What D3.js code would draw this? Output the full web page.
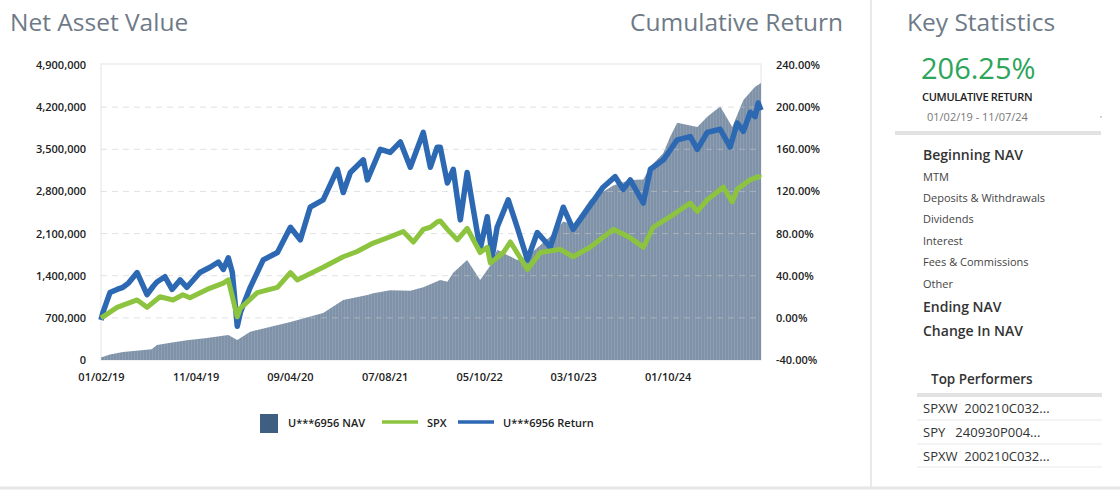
<!DOCTYPE html>
<html>
<head>
<meta charset="utf-8">
<script src="https://cdn.jsdelivr.net/npm/d3@7"></script>
<style>
  html, body { margin: 0; padding: 0; background: #fff; }
  svg { display: block; font-family: "Open Sans", "Noto Sans", sans-serif; }
</style>
</head>
<body>
<svg id="chart" width="1120" height="501"></svg>
<script>
// ---------- data ----------
const navDates = ["2019-01-02","2019-01-31","2019-03-14","2019-06-15","2019-07-02","2019-08-20","2019-10-07","2019-12-11","2020-02-18","2020-03-18","2020-04-29","2020-05-22","2020-09-06","2020-12-21","2021-02-24","2021-05-13","2021-06-01","2021-07-26","2021-09-29","2021-11-10","2022-01-04","2022-01-27","2022-02-15","2022-04-01","2022-05-13","2022-06-21","2022-07-07","2022-09-10","2022-10-13","2022-12-26","2023-02-06","2023-03-10","2023-05-04","2023-07-18","2023-09-11","2023-10-23","2023-11-15","2023-12-27","2024-01-18","2024-02-10","2024-04-15","2024-05-17","2024-06-28","2024-08-06","2024-09-11","2024-10-19","2024-11-07"];
const navValues = [40000,90000,133000,180000,250000,290000,330000,366000,416000,333000,470000,500000,632000,781000,998000,1080000,1110000,1160000,1150000,1210000,1330000,1300000,1450000,1660000,1330000,1610000,1830000,1660000,1720000,2050000,2300000,2250000,2660000,2900000,2990000,3000000,3210000,3440000,3710000,3940000,3870000,4040000,4210000,3870000,4320000,4540000,4600000];

const returnDates = ["2019-01-02","2019-01-08","2019-01-31","2019-02-23","2019-03-14","2019-04-01","2019-04-29","2019-05-31","2019-06-20","2019-07-02","2019-07-28","2019-08-20","2019-09-15","2019-10-07","2019-10-25","2019-11-18","2019-12-21","2020-01-17","2020-02-02","2020-02-18","2020-03-02","2020-03-18","2020-03-28","2020-04-29","2020-06-10","2020-07-26","2020-09-06","2020-10-08","2020-11-09","2020-12-21","2021-02-05","2021-02-24","2021-03-19","2021-04-30","2021-05-13","2021-06-24","2021-07-26","2021-08-28","2021-09-29","2021-11-10","2021-12-03","2021-12-25","2022-01-04","2022-01-27","2022-02-15","2022-03-10","2022-04-01","2022-04-21","2022-05-13","2022-06-05","2022-06-21","2022-07-07","2022-08-12","2022-09-10","2022-10-13","2022-11-14","2022-12-26","2023-02-06","2023-03-10","2023-04-25","2023-06-15","2023-07-24","2023-08-19","2023-09-11","2023-10-23","2023-11-15","2023-12-27","2024-02-10","2024-03-23","2024-04-15","2024-05-17","2024-06-28","2024-07-30","2024-08-22","2024-09-11","2024-10-03","2024-10-19","2024-10-29","2024-11-07"];
const returnValues = [-2,5,24,27,29,33,43,22,30,34,39,27,36,29,35,43,48,53,46,57,43,-8,5,29,55,62,86,74,105,112,141,119,138,150,131,160,157,167,143,176,143,162,162,128,141,93,138,103,65,96,58,86,112,86,55,81,67,105,84,103,124,134,122,131,109,141,150,169,172,160,176,179,162,185,177,195,191,204,197];

const spxDates = ["2019-01-02","2019-01-08","2019-02-23","2019-04-29","2019-05-31","2019-07-12","2019-08-23","2019-09-24","2019-10-17","2019-12-11","2020-02-02","2020-02-18","2020-03-18","2020-03-28","2020-05-22","2020-07-26","2020-09-06","2020-09-28","2020-12-21","2021-02-24","2021-04-10","2021-06-01","2021-07-26","2021-09-06","2021-10-09","2021-11-10","2021-12-03","2021-12-25","2022-01-04","2022-01-27","2022-02-28","2022-04-01","2022-05-13","2022-06-05","2022-06-15","2022-07-27","2022-08-19","2022-10-13","2022-11-24","2023-01-27","2023-03-10","2023-05-04","2023-07-18","2023-09-11","2023-10-23","2023-11-24","2024-01-18","2024-03-23","2024-04-15","2024-05-17","2024-07-08","2024-08-06","2024-08-22","2024-10-03","2024-10-29","2024-11-07"];
const spxValues = [0,1,10,17,10,20,17,22,19,27,33,36,1,9,24,29,43,36,48,58,63,71,77,82,72,84,86,91,92,84,74,85,62,67,52,62,72,46,62,65,58,67,84,76,67,86,96,109,101,112,124,110,122,131,134,133];

const navTicks = [0,700000,1400000,2100000,2800000,3500000,4200000,4900000];
const returnTicks = [-40,0,40,80,120,160,200,240];
const dateTicks = ["2019-01-02","2019-11-04","2020-09-04","2021-07-08","2022-05-10","2023-03-10","2024-01-10"];
const dateRange = ["2019-01-02","2024-11-07"];

const legendItems = [
  {label: "U***6956 NAV", kind: "box"},
  {label: "SPX", kind: "spx"},
  {label: "U***6956 Return", kind: "ret"}
];
const statRows = ["Beginning NAV","MTM","Deposits & Withdrawals","Dividends","Interest","Fees & Commissions","Other","Ending NAV","Change In NAV"];
const performers = ["SPXW  200210C032...","SPY   240930P004...","SPXW  200210C032..."];

// ---------- drawing ----------
const parse = d3.timeParse("%Y-%m-%d");
const svg = d3.select("#chart");

const C = { nav: "#7f92a8", navStripe: "#92a3b7", navLegend: "#3e5f82", spx: "#8cc43f", ret: "#2d69b3", title: "#6e7a87", axis: "#222" };
const L = 101, R = 761, T = 65, B = 360;

const x = d3.scaleTime().domain(dateRange.map(parse)).range([L, R]);
const yNav = d3.scaleLinear().domain([0, 4900000]).range([B, T]);
const yRet = d3.scaleLinear().domain([-40, 240]).range([B, T]);

const nav = navDates.map((d, i) => ({d: parse(d), v: navValues[i]}));
const ret = returnDates.map((d, i) => ({d: parse(d), v: returnValues[i]}));
const spx = spxDates.map((d, i) => ({d: parse(d), v: spxValues[i]}));

// bar-like stripe texture for the NAV area
const defs = svg.append("defs");
const pat = defs.append("pattern").attr("id", "navStripes").attr("patternUnits", "userSpaceOnUse")
  .attr("width", 3).attr("height", 10);
pat.append("rect").attr("width", 3).attr("height", 10).attr("fill", C.nav);
pat.append("rect").attr("x", 2).attr("width", 0.7).attr("height", 10).attr("fill", C.navStripe);

// titles
svg.append("text").attr("x", 10).attr("y", 31).attr("font-size", 24.5).attr("fill", C.title).text("Net Asset Value");
svg.append("text").attr("x", 843).attr("y", 31).attr("font-size", 24.5).attr("fill", C.title).attr("text-anchor", "end").text("Cumulative Return");
svg.append("text").attr("x", 907).attr("y", 31).attr("font-size", 24.5).attr("fill", C.title).text("Key Statistics");

// plot frame
svg.append("rect").attr("x", L).attr("y", T - 1).attr("width", R - L).attr("height", B - T + 1)
  .attr("fill", "none").attr("stroke", "#e3e3e3").attr("stroke-width", 1);

// area NAV
svg.append("path").datum(nav)
  .attr("fill", "url(#navStripes)")
  .attr("d", d3.area().x(d => x(d.d)).y0(yNav(0)).y1(d => yNav(d.v)));

// gridlines
svg.append("g").selectAll("line").data(navTicks.slice(1, -1)).join("line")
  .attr("x1", L).attr("x2", R).attr("y1", d => yNav(d)).attr("y2", d => yNav(d))
  .attr("stroke", "#c8c8c8").attr("stroke-opacity", 0.55).attr("stroke-dasharray", "6,5");

// lines
svg.append("path").datum(ret)
  .attr("fill", "none").attr("stroke", C.ret).attr("stroke-width", 5.5).attr("stroke-linejoin", "round")
  .attr("d", d3.line().x(d => x(d.d)).y(d => yRet(d.v)));
svg.append("path").datum(spx)
  .attr("fill", "none").attr("stroke", C.spx).attr("stroke-width", 5).attr("stroke-linejoin", "round")
  .attr("d", d3.line().x(d => x(d.d)).y(d => yRet(d.v)));

// axes
const styleAxis = g => {
  g.select(".domain").remove();
  g.selectAll("text").attr("font-size", 11).attr("font-weight", 600).attr("fill", C.axis)
    .attr("font-family", "'Open Sans', sans-serif");
};
svg.append("g").attr("transform", `translate(${L},0)`)
  .call(d3.axisLeft(yNav).tickValues(navTicks).tickFormat(d3.format(",")).tickSize(0).tickPadding(15))
  .call(styleAxis);
svg.append("g").attr("transform", `translate(${R},0)`)
  .call(d3.axisRight(yRet).tickValues(returnTicks).tickFormat(d => d.toFixed(2) + "%").tickSize(0).tickPadding(15))
  .call(styleAxis);
svg.append("g").attr("transform", `translate(0,${B})`)
  .call(d3.axisBottom(x).tickValues(dateTicks.map(parse)).tickFormat(d3.timeFormat("%m/%d/%y")).tickSize(0).tickPadding(13))
  .call(styleAxis);

// legend
const lg = svg.append("g").attr("font-size", 11).attr("font-weight", 600).attr("fill", C.axis);
const legendX = [260, 382, 458];
legendItems.forEach((it, i) => {
  const gx = legendX[i];
  if (it.kind === "box") {
    lg.append("rect").attr("x", gx).attr("y", 414).attr("width", 18).attr("height", 19).attr("fill", C.navLegend);
    lg.append("text").attr("x", gx + 28).attr("y", 426.5).text(it.label);
  } else {
    lg.append("line").attr("x1", gx).attr("x2", gx + 36).attr("y1", 422).attr("y2", 422)
      .attr("stroke", it.kind === "spx" ? C.spx : C.ret).attr("stroke-width", 3.5);
    lg.append("text").attr("x", gx + 45).attr("y", 426.5).text(it.label);
  }
});

// key statistics panel
svg.append("line").attr("x1", 871).attr("x2", 871).attr("y1", 0).attr("y2", 487).attr("stroke", "#e2e2e2").attr("stroke-width", 1.5);
svg.append("line").attr("x1", 0).attr("x2", 1120).attr("y1", 488).attr("y2", 488).attr("stroke", "#e6e6e6").attr("stroke-width", 3);

svg.append("text").attr("x", 921).attr("y", 79).attr("font-size", 29).attr("fill", "#2ea55a").text("206.25%");
svg.append("text").attr("x", 922).attr("y", 101).attr("font-size", 11).attr("font-weight", 600).attr("fill", "#222")
  .attr("letter-spacing", -0.3).text("CUMULATIVE RETURN");
svg.append("text").attr("x", 927).attr("y", 121).attr("font-size", 11).attr("fill", "#777").text("01/02/19 - 11/07/24");
svg.append("circle").attr("cx", 1101).attr("cy", 117).attr("r", 0.8).attr("fill", "#999");
svg.append("line").attr("x1", 895).attr("x2", 1101).attr("y1", 133).attr("y2", 133).attr("stroke", "#e2e2e2").attr("stroke-width", 4);

const rowY = [160, 181, 202, 223, 245, 266, 288, 312, 336];
const bigRow = [true, false, false, false, false, false, false, true, true];
svg.append("g").selectAll("text").data(statRows).join("text")
  .attr("x", 923).attr("y", (d, i) => rowY[i])
  .attr("font-size", (d, i) => bigRow[i] ? 14 : 11)
  .attr("font-weight", (d, i) => bigRow[i] ? 600 : 400)
  .attr("fill", (d, i) => bigRow[i] ? "#333" : "#444")
  .text(d => d);

svg.append("text").attr("x", 931).attr("y", 384).attr("font-size", 13.5).attr("font-weight", 600).attr("fill", "#333").text("Top Performers");
svg.append("line").attr("x1", 917).attr("x2", 1102).attr("y1", 395).attr("y2", 395).attr("stroke", "#e2e2e2").attr("stroke-width", 4);
const perfY = [413, 437, 461];
const perfLineY = [420, 444, 467];
svg.append("g").selectAll("text").data(performers).join("text")
  .attr("x", 923).attr("y", (d, i) => perfY[i]).attr("font-size", 13).attr("fill", "#333")
  .style("white-space", "pre").text(d => d);
svg.append("g").selectAll("line").data(perfLineY).join("line")
  .attr("x1", 917).attr("x2", 1102).attr("y1", d => d).attr("y2", d => d).attr("stroke", "#e8e8e8");
</script>
</body>
</html>
